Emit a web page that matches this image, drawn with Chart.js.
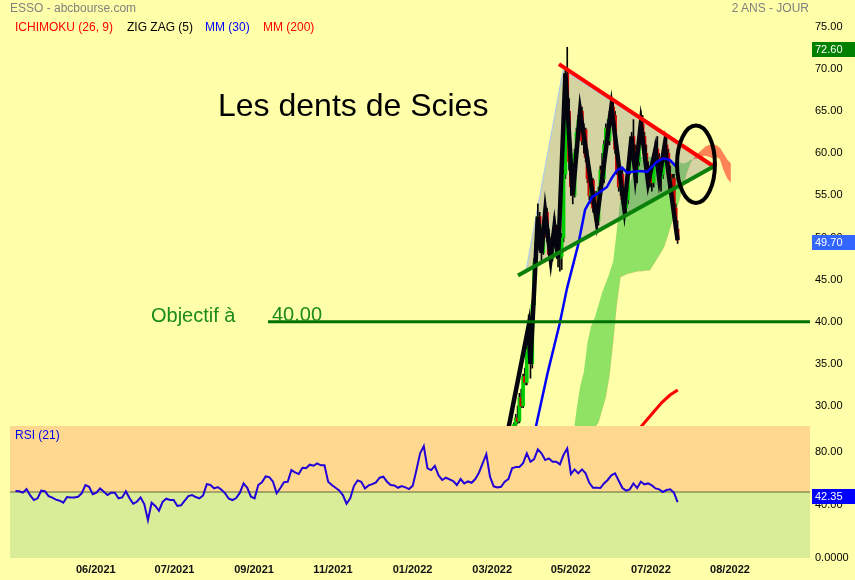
<!DOCTYPE html>
<html><head><meta charset="utf-8">
<script src="https://cdn.jsdelivr.net/npm/chart.js@4.4.1/dist/chart.umd.min.js"></script>
<style>
html,body{margin:0;padding:0;background:#FFFFAA;width:855px;height:580px;overflow:hidden;font-family:"Liberation Sans",Arial,sans-serif;}
#wrap{position:relative;width:855px;height:580px;}
canvas{position:absolute;left:0;}
.t{position:absolute;white-space:nowrap;line-height:1;}
</style></head><body>
<div id="wrap">
<canvas id="price" width="855" height="426" style="top:0px;width:855px;height:426px"></canvas>
<canvas id="rsi" width="855" height="154" style="top:426px;width:855px;height:154px"></canvas>
<div class="t" style="left:10px;top:2px;font-size:12px;color:#808080">ESSO - abcbourse.com</div>
<div class="t" style="right:46px;top:2px;font-size:12px;color:#808080">2 ANS - JOUR</div>
<div class="t" style="left:15px;top:21px;font-size:12px;color:#FF0000">ICHIMOKU (26, 9)</div>
<div class="t" style="left:127px;top:21px;font-size:12px;color:#000">ZIG ZAG (5)</div>
<div class="t" style="left:205px;top:21px;font-size:12px;color:#0000FF">MM (30)</div>
<div class="t" style="left:263px;top:21px;font-size:12px;color:#FF0000">MM (200)</div>
<div class="t" style="left:218px;top:89px;font-size:32px;color:#000">Les dents de Scies</div>
<div class="t" style="left:151px;top:305px;font-size:20px;color:#1B8C1B">Objectif à</div>
<div class="t" style="left:272px;top:304px;font-size:20px;color:#1B8C1B">40.00</div>
<div class="t" style="left:15px;top:429px;font-size:12px;color:#0000EE">RSI (21)</div>
</div>
<script>
const FONT = '"Liberation Sans", Arial, sans-serif';

// ---------- DATA ----------
// trading-day index of the first candle
const candleStartDay = 274;
const candleOpen  = [26.5,27.8,28.6,28.2,31.0,30.0,33.5,32.8,36.8,39.5,35.0,42.0,47.0,49.5,52.5,49.0,48.2,51.5,53.0,50.0,48.0,47.5,50.0,51.2,49.0,47.5,47.8,50.0,57.5,69.5,65.0,59.0,56.0,55.0,60.0,62.5,64.0,65.0,61.5,62.8,59.5,57.0,55.0,56.8,53.5,55.0,52.0,55.5,58.0,57.0,61.0,63.0,61.5,64.5,65.5,64.5,60.5,58.0,56.0,57.5,54.5,53.5,54.5,58.0,60.5,62.0,60.5,57.5,59.0,61.5,63.5,62.0,60.0,58.0,56.5,58.0,56.5,59.0,60.5,59.5,57.0,57.5,59.5,61.0,60.0,57.5,55.5,57.0,53.5,51.0];
const candleHigh  = [28.0,29.0,30.0,31.5,32.0,33.8,34.5,37.0,40.8,40.0,42.5,47.5,50.5,54.0,53.0,50.0,52.0,54.2,53.5,51.0,49.5,50.5,52.5,51.5,49.8,48.5,50.5,58.0,70.0,72.6,66.5,61.0,57.5,60.5,63.0,64.5,66.0,65.5,63.5,63.0,60.5,58.5,57.5,57.0,55.5,55.5,56.0,58.5,60.0,61.5,63.5,64.0,65.0,66.5,66.5,65.0,61.5,59.5,58.0,58.0,55.5,55.0,58.5,61.0,62.5,64.0,61.0,59.5,62.0,65.0,64.5,62.5,61.0,59.0,58.5,58.5,59.5,61.5,62.0,60.0,58.0,60.0,61.5,62.0,60.5,58.5,57.5,57.5,54.0,52.0];
const candleLow   = [26.0,27.2,27.9,28.0,29.8,29.8,32.5,32.5,36.5,33.3,34.5,41.5,46.0,48.5,48.5,47.2,48.0,50.5,49.5,47.5,46.5,47.2,49.5,48.5,46.5,46.0,46.2,49.5,57.0,64.5,58.0,55.0,54.0,54.8,59.0,61.5,63.0,61.0,60.0,59.0,56.5,54.5,54.0,53.0,52.5,51.0,51.5,55.0,56.5,56.5,60.0,61.0,61.0,63.5,64.0,60.0,57.5,55.5,55.0,54.0,52.5,52.5,54.0,57.5,59.5,60.0,57.0,56.5,58.5,61.0,61.5,59.5,57.5,56.0,56.0,55.5,56.0,58.5,59.0,56.5,55.5,57.0,59.0,59.5,57.0,55.0,54.5,53.0,50.5,49.3];
const candleClose = [27.8,28.6,28.2,31.0,30.0,33.5,32.8,36.8,39.5,35.0,42.0,47.0,49.5,52.5,49.0,48.2,51.5,53.0,50.0,48.0,47.5,50.0,51.2,49.0,47.5,47.8,50.0,57.5,69.5,65.0,59.0,56.0,55.0,60.0,62.5,64.0,65.0,61.5,62.8,59.5,57.0,55.0,56.8,53.5,55.0,52.0,55.5,58.0,57.0,61.0,63.0,61.5,64.5,65.5,64.5,60.5,58.0,56.0,57.5,54.5,53.5,54.5,58.0,60.5,62.0,60.5,57.5,59.0,61.5,63.5,62.0,60.0,58.0,56.5,58.0,56.5,59.0,60.5,59.5,57.0,57.5,59.5,61.0,60.0,57.5,55.5,57.0,53.5,51.0,49.7];

const zigzagDays   = [268, 282, 283, 287, 289, 291, 294, 296, 298, 302, 306, 310, 319, 327, 334, 338, 340, 343, 347, 351, 353, 356, 363];
const zigzagPrices = [24.0,39.5,35.0,52.5,48.2,53.0,47.5,51.2,47.5,69.5,55.0,65.0,52.0,65.5,53.5,62.0,57.5,63.5,56.5,60.5,57.0,61.0,49.7];

const mm30Days = [282.8,286.5,292.3,298.9,302.9,308.9,312.7,316.5,320.8,324.6,327.3,330.1,332.8,335.5,338.8,342.6,346.4,349.1,351.8,355.1,358.9,362.7];
const mm30Vals = [24.2, 28.1, 33.9, 39.8, 44.0, 49.1, 53.3, 54.8, 55.4, 56.0, 57.1, 58.0, 58.3, 57.7, 57.8, 57.9, 57.8, 58.4, 59.0, 59.4, 59.2, 58.3];

const mm200Days = [342.6,345.3,349.6,354.4,358.9,363.1];
const mm200Vals = [27.4, 28.1, 29.2, 30.4, 31.3, 31.9];

// Ichimoku cloud (senkou spans, shifted 26 days ahead), one value every 2 days
const cloudStartDay = 306, cloudStep = 2;
const senkouA = [26.0,29.5,32.3,34.0,37.5,39.5,40.5,42.0,43.5,44.6,45.8,47.2,51.0,54.8,55.3,55.8,57.0,59.0,59.5,59.6,59.7,59.6,59.5,59.4,59.2,59.0,59.0,59.0,59.0,58.9,58.8,58.9,59.2,59.3,59.4,59.6,59.7,59.6,59.4,59.6,59.3,58.0,57.0,56.5];
const senkouB = [25.0,25.3,25.6,26.0,26.3,26.8,27.4,28.0,29.5,31.0,33.5,37.5,42.0,45.3,45.5,45.7,45.8,45.9,46.0,46.0,46.1,46.1,46.8,47.5,48.2,49.0,50.4,51.8,53.0,54.4,56.0,57.6,58.8,59.5,60.0,60.4,60.8,61.0,61.1,61.0,60.7,60.0,59.3,58.8];

// RSI(21), one value every 2 trading days
const rsiStartDay = 3, rsiStep = 2;
const rsiVals = [50.7,50.5,49.5,52.2,47.4,43.9,45.2,51.0,50.7,46.9,
45.7,44.2,43.4,41.9,46.2,45.9,45.9,46.4,49.0,55.3,
54.0,48.4,49.5,52.7,50.2,47.7,49.5,49.5,45.2,45.9,
50.5,45.2,41.1,42.6,45.9,40.9,28.7,41.9,39.4,35.8,
42.6,44.9,43.9,43.9,39.4,39.9,43.4,46.9,47.7,46.2,
45.2,47.4,56.0,55.3,52.7,53.7,51.7,49.0,44.9,43.9,
45.4,49.5,56.5,53.2,46.4,45.2,55.3,57.3,61.8,61.3,
57.8,49.0,53.0,57.5,57.8,66.6,64.9,63.6,68.4,68.1,
70.7,69.9,71.7,70.2,70.2,57.8,55.3,53.2,51.2,47.7,
41.1,45.2,54.5,58.8,57.8,52.7,55.0,56.0,57.3,60.8,
61.6,57.8,55.3,55.0,53.2,54.5,53.5,52.2,54.8,66.6,
79.3,84.8,
67.9,66.6,69.7,62.6,59.1,60.8,59.6,58.3,55.3,59.8,
56.5,58.0,57.0,59.8,64.6,71.7,78.7,61.6,54.3,53.5,
54.0,57.8,59.8,67.9,68.9,68.9,71.9,79.3,72.9,75.0,
82.3,79.3,74.2,75.5,72.9,72.9,70.9,78.2,83.0,63.6,
67.1,64.1,67.1,64.1,57.0,53.2,53.2,53.0,56.5,59.1,
62.6,64.1,58.5,53.0,51.0,52.0,56.5,53.0,57.8,55.8,
56.5,55.0,52.7,52.0,50.0,51.5,52.0,49.5,42.35];

const priceTicks = [30,35,40,45,50,55,60,65,70,75];
const rsiTicks = [0,40,80];
const monthTickDays = [46.65,89.45,132.7,175.6,218.9,262.2,304.9,348.5,391.5];
const monthLabels = ['06/2021','07/2021','09/2021','11/2021','01/2022','03/2022','05/2022','07/2022','08/2022'];

const lastPrice = 49.70, highPrice = 72.60, lastRsi = 42.35, rsiMid = 50, objective = 40.0;

// ---------- annotation geometry (drawing, not data) ----------
const DAYS_MAX = 435;
const TRI = [[280.6,46.1],[300.7,69.9],[381.7,58.5]];
const RESIST = [[298.5,70.6],[382.3,58.5]];
const SUPPORT = [[276.2,45.5],[382.3,58.4]];
const OBJ_FROM = 140.3;
const ELL = {day:373, price:58.7, rDays:10.3, rPrice:4.6};

const pts = (xs, ys) => xs.map((x,i)=>({x, y: ys[i]}));
const stepPts = (start, step, ys) => ys.map((y,i)=>({x: start + step*i, y}));
const candleDays = candleOpen.map((_,i)=>candleStartDay+i);
const noPad = s => { s.paddingTop = 0; s.paddingBottom = 0; s.paddingLeft = 0; s.paddingRight = 0; };

function valueBox(ctx, chart, scale, value, text, bg, dy){
  const y = scale.getPixelForValue(value) + dy;
  const x0 = chart.chartArea.right + 2;
  ctx.save();
  ctx.fillStyle = bg;
  ctx.fillRect(x0, Math.round(y-7.5), chart.width - x0, 15);
  ctx.fillStyle = '#fff';
  ctx.font = '11px ' + FONT;
  ctx.textBaseline = 'middle';
  ctx.textAlign = 'left';
  ctx.fillText(text, x0 + 3, Math.round(y-7.5) + 8);
  ctx.restore();
}

const priceOverlay = {
  id: 'priceOverlay',
  afterDatasetsDraw(chart){
    const {ctx, scales:{x, y}} = chart;
    const cx = x.getPixelForValue(ELL.day), cy = y.getPixelForValue(ELL.price);
    const rx = x.getPixelForValue(ELL.day + ELL.rDays) - cx;
    const ry = cy - y.getPixelForValue(ELL.price + ELL.rPrice);
    ctx.save();
    ctx.beginPath();
    ctx.ellipse(cx, cy, rx, ry, 0, 0, Math.PI*2);
    ctx.lineWidth = 4; ctx.strokeStyle = '#000';
    ctx.stroke();
    ctx.restore();
  },
  afterDraw(chart){
    const y = chart.scales.y;
    valueBox(chart.ctx, chart, y, highPrice, highPrice.toFixed(2), '#008000', 2);
    valueBox(chart.ctx, chart, y, lastPrice, lastPrice.toFixed(2), '#3366FF', 2);
  }
};

const rsiOverlay = {
  id: 'rsiOverlay',
  afterDraw(chart){
    valueBox(chart.ctx, chart, chart.scales.y, lastRsi, lastRsi.toFixed(2), '#0000FF', -6);
  }
};

const lineBase = {type:'line', pointRadius:0, pointHoverRadius:0, tension:0, fill:false};

new Chart(document.getElementById('price'), {
  type: 'line',
  data: { datasets: [
    {...lineBase, label:'senkouA', data: stepPts(cloudStartDay, cloudStep, senkouA), borderWidth:0,
      borderColor:'rgba(0,0,0,0)', fill:{target:1, above:'#90E264', below:'rgba(255,110,70,0.85)'}, order:20},
    {...lineBase, label:'senkouB', data: stepPts(cloudStartDay, cloudStep, senkouB), borderWidth:0,
      borderColor:'rgba(0,0,0,0)', order:19},
    {...lineBase, label:'triTop', data: TRI.map(p=>({x:p[0], y:p[1]})), borderWidth:1, borderColor:'#A8C8F0',
      fill:{target:3, above:'rgba(120,120,150,0.32)', below:'rgba(120,120,150,0.32)'}, order:18},
    {...lineBase, label:'triBottom', data: [TRI[0], TRI[2]].map(p=>({x:p[0], y:p[1]})), borderWidth:1, borderColor:'#A8C8F0', order:17},
    {type:'bar', label:'wicks', data: candleDays.map((d,i)=>({x:d, y:[candleLow[i], candleHigh[i]]})),
      backgroundColor:'#000', barThickness:1, grouped:false, order:16},
    {type:'bar', label:'bodies', data: candleDays.map((d,i)=>({x:d, y:[candleOpen[i], candleClose[i]]})),
      backgroundColor: candleDays.map((d,i)=> candleClose[i] >= candleOpen[i] ? '#00CC00' : '#D40000'),
      barThickness:3, grouped:false, order:15},
    {...lineBase, label:'zigzag', data: pts(zigzagDays, zigzagPrices), borderColor:'#05050f', borderWidth:4.5, order:14},
    {...lineBase, label:'mm200', data: pts(mm200Days, mm200Vals), borderColor:'#FF0000', borderWidth:3, order:13},
    {...lineBase, label:'mm30', data: pts(mm30Days, mm30Vals), borderColor:'#0000FF', borderWidth:2.5, order:12},
    {...lineBase, label:'objectif', data: [{x:OBJ_FROM, y:objective},{x:DAYS_MAX, y:objective}], borderColor:'#007000', borderWidth:3, order:11},
    {...lineBase, label:'resistance', data: RESIST.map(p=>({x:p[0], y:p[1]})), borderColor:'#FF0000', borderWidth:4, order:10},
    {...lineBase, label:'support', data: SUPPORT.map(p=>({x:p[0], y:p[1]})), borderColor:'#0A800A', borderWidth:4, order:9}
  ]},
  options: {
    responsive:false, maintainAspectRatio:false, animation:false, events:[],
    layout:{padding:{left:10, right:0, top:0, bottom:0}},
    plugins:{legend:{display:false}, tooltip:{enabled:false}},
    scales:{
      x:{type:'linear', min:0, max:DAYS_MAX, display:false, offset:false},
      y:{type:'linear', position:'right', min:27.625, max:78.206,
        grid:{display:false, drawTicks:false}, border:{display:false},
        afterFit(s){ s.width = 45; noPad(s); },
        afterBuildTicks(s){ s.ticks = priceTicks.map(v=>({value:v})); },
        ticks:{padding:5, color:'#000', font:{size:11, family:FONT}, callback:v=>Number(v).toFixed(2)}
      }
    }
  },
  plugins:[priceOverlay]
});

new Chart(document.getElementById('rsi'), {
  type: 'line',
  data: { datasets: [
    {...lineBase, label:'RSI', data: stepPts(rsiStartDay, rsiStep, rsiVals), borderColor:'#2200D8', borderWidth:2, order:1},
    {...lineBase, label:'mid', data: [{x:0,y:rsiMid},{x:DAYS_MAX,y:rsiMid}], borderColor:'#566B38', borderWidth:1, order:2},
    {...lineBase, label:'overbought', data: [{x:0,y:100},{x:DAYS_MAX,y:100}], borderWidth:0, borderColor:'rgba(0,0,0,0)',
      backgroundColor:'#FFD890', fill:{value:rsiMid}, order:3},
    {...lineBase, label:'oversold', data: [{x:0,y:0},{x:DAYS_MAX,y:0}], borderWidth:0, borderColor:'rgba(0,0,0,0)',
      backgroundColor:'#D9EC97', fill:{value:rsiMid}, order:4}
  ]},
  options: {
    responsive:false, maintainAspectRatio:false, animation:false, events:[],
    layout:{padding:{left:10, right:0, top:0, bottom:0}},
    plugins:{legend:{display:false}, tooltip:{enabled:false}},
    scales:{
      x:{type:'linear', min:0, max:DAYS_MAX, offset:false,
        grid:{display:false, drawTicks:false}, border:{display:false},
        afterFit(s){ s.height = 22; noPad(s); },
        afterBuildTicks(s){ s.ticks = monthTickDays.map(v=>({value:v})); },
        ticks:{autoSkip:false, maxRotation:0, minRotation:0, padding:5, color:'#111',
          font:{size:11, weight:'bold', family:FONT}, callback:(v,i)=>monthLabels[i]}
      },
      y:{type:'linear', position:'right', min:0, max:100,
        grid:{display:false, drawTicks:false}, border:{display:false},
        afterFit(s){ s.width = 45; noPad(s); },
        afterBuildTicks(s){ s.ticks = rsiTicks.map(v=>({value:v})); },
        ticks:{padding:5, color:'#000', font:{size:11, family:FONT}, callback:v=> v===0 ? '0.0000' : Number(v).toFixed(2)}
      }
    }
  },
  plugins:[rsiOverlay]
});
</script>
</body></html>
